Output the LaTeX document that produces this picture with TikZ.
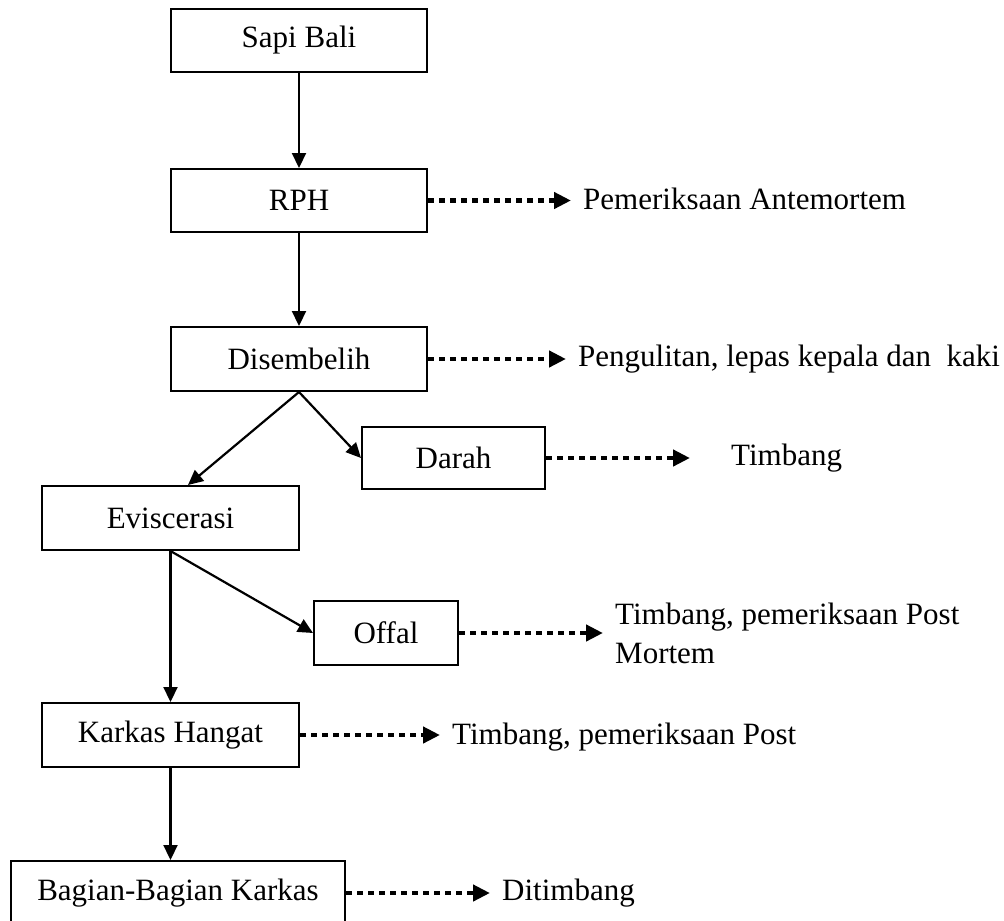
\documentclass[tikz,border=0pt]{standalone}
\usepackage{fontspec}
\setmainfont{Liberation Serif}
\usetikzlibrary{positioning,arrows.meta}

\begin{document}
\begin{tikzpicture}
    [x=1pt,y=-1pt,
     every node/.style={inner sep=0pt, font=\fontsize{31}{39}\selectfont},
     box/.style={draw, line width=2pt, minimum height=64pt},
     >={Triangle[length=15pt,width=14pt]},
     flow/.style={->, line width=2.2pt},
     dots/.style={-{Triangle[length=17pt,width=16pt]}, line width=4.5pt, dash pattern=on 5.5pt off 5.5pt, shorten >=12pt}]
  \useasboundingbox (0,0) rectangle (1004,921);
  \node[box, minimum width=256pt, minimum height=63pt] (sapi) at (299,40.5) {Sapi Bali};
  \node[box, minimum width=256pt, minimum height=63pt] (rph) at (299,200.5) {RPH};
  \node[box, minimum width=256pt] (dis) at (299,359) {Disembelih};
  \node[box, minimum width=183pt, minimum height=62pt] (darah) at (453.5,458) {Darah};
  \node[box, minimum width=257pt] (evis) at (170.5,518) {Eviscerasi};
  \node[box, minimum width=144pt] (offal) at (386,633) {Offal};
  \node[box, minimum width=257pt] (karkas) at (170.5,735) {Karkas Hangat};
  \node[box, minimum width=334pt] (bagian) at (178,893) {Bagian-Bagian Karkas};

  \node[anchor=west] (antem) at (583,199) {Pemeriksaan Antemortem};
  \node[anchor=west] (kulit) at (578,359) {Pengulitan, lepas kepala dan \ kaki};
  \node[anchor=west] (timbang) at (731,458) {Timbang};
  \node[anchor=west, align=left] (postoffal) at (615,633) {Timbang, pemeriksaan Post\\Mortem};
  \node[anchor=west] (postkarkas) at (452,737) {Timbang, pemeriksaan Post};
  \node[anchor=west] (ditimbang) at (502,893) {Ditimbang};

  \foreach \from/\to in {sapi/rph, rph/dis, evis/karkas}
    \draw[flow] (\from.south) -- (\to.north);
  \draw[flow] (dis.south) -- ([xshift=17.5pt]evis.north);
  \draw[flow] (dis.south) -- (darah.west);
  \draw[flow] (evis.south) -- (offal.west);
  \draw[flow] (karkas.south) -- (karkas.south |- bagian.north);

  \foreach \from/\to in {rph/antem, dis/kulit, offal/postoffal, karkas/postkarkas, bagian/ditimbang}
    \draw[dots] (\from.east) -- (\from.east -| \to.west);
  \draw[dots, shorten >=41pt] (darah.east) -- (darah.east -| timbang.west);
\end{tikzpicture}
\end{document}
